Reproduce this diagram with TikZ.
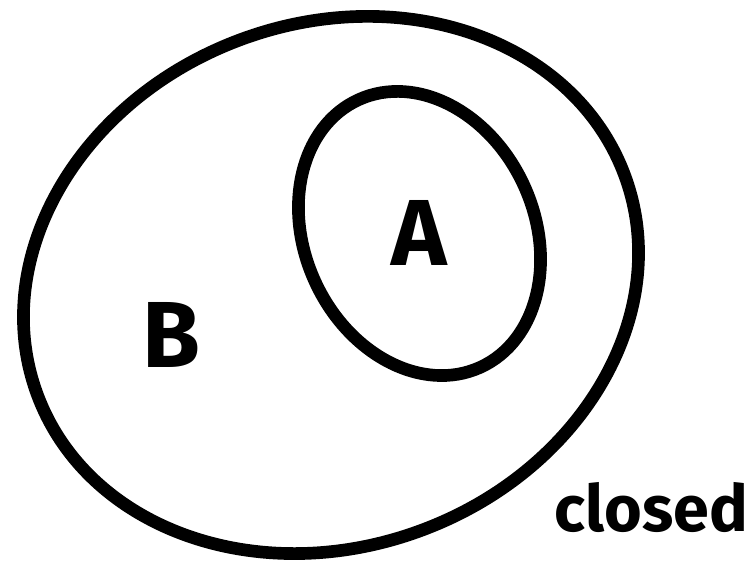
\documentclass[tikz,border=0pt]{standalone}
\usepackage{fontspec}
\setmainfont{Fira Sans}
\usepackage{tikz}
\usetikzlibrary{shapes.geometric,positioning}

\begin{document}
\begin{tikzpicture}[
  setshape/.style={draw, ellipse, line width=3.6pt, inner sep=0pt},
  biglbl/.style={font=\bfseries\fontsize{26.7}{32}\selectfont, inner sep=0pt},
  smalllbl/.style={font=\bfseries\fontsize{18.4}{22}\selectfont, inner sep=0pt}
]
  \useasboundingbox (0,0) rectangle (7.53,5.64);

  % Sets
  \node[setshape, minimum width=62.7mm, minimum height=52.3mm, rotate=20.7] (setB) at (3.31,2.79) {};
  \node[setshape, minimum width=23.0mm, minimum height=29.4mm, rotate=24.4] (setA) at (4.195,3.305) {};

  % Labels
  \node[biglbl] (lblA) at (setA.center) {A};
  \node[biglbl] (lblB) at (1.71,2.29) {B};
  \node[smalllbl, anchor=base] (lblclosed) at (6.515,0.32) {closed};
\end{tikzpicture}
\end{document}
